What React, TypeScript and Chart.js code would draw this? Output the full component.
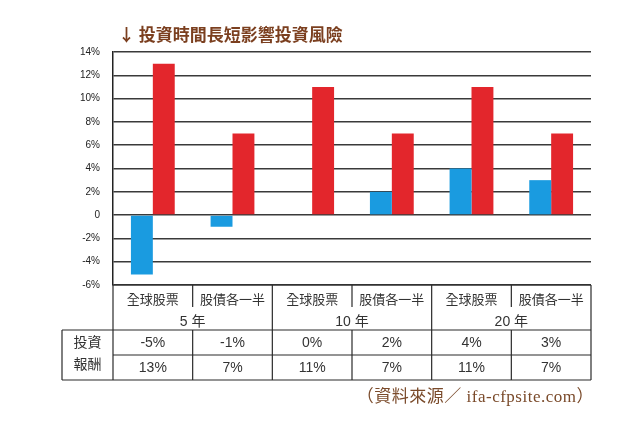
import React, { useEffect, useRef } from "react";
import { Chart, registerables } from "chart.js";

Chart.register(...registerables);

const categories = ["全球股票", "股債各一半", "全球股票", "股債各一半", "全球股票", "股債各一半"];
const years = ["5 年", "10 年", "20 年"];
const worstValues = [-5.1, -1, 0, 2, 4, 3];
const bestValues = [13, 7, 11, 7, 11, 7];
const worstLabels = ["-5%", "-1%", "0%", "2%", "4%", "3%"];
const bestLabels = ["13%", "7%", "11%", "7%", "11%", "7%"];
const rowHeader = ["投資", "報酬"];
const titleText = "↓ 投資時間長短影響投資風險";
const sourceText = "（資料來源／ ifa-cfpsite.com）";

const CJK = "'Noto Sans CJK TC', 'Liberation Sans', sans-serif";
const NUM = "'Liberation Sans', 'Noto Sans CJK TC', sans-serif";

const tablePlugin = {
  id: "tablePlugin",
  afterDraw(chart: any) {
    const ctx = chart.ctx as CanvasRenderingContext2D;
    const xs = chart.scales.x;
    const area = chart.chartArea;
    const left = area.left;
    const right = area.right;
    const n = categories.length;
    const w = (right - left) / n;
    const top = area.bottom;
    const subDivBottom = top + 22;
    const catBottom = top + 45;
    const row1 = catBottom + 25;
    const row2 = row1 + 25;
    const headLeft = 62;

    ctx.save();
    ctx.strokeStyle = "#2a2a2a";
    ctx.lineWidth = 1.2;
    const line = (x1: number, y1: number, x2: number, y2: number) => {
      ctx.beginPath();
      ctx.moveTo(x1, y1);
      ctx.lineTo(x2, y2);
      ctx.stroke();
    };
    line(left, top, right, top);
    line(headLeft, catBottom, right, catBottom);
    line(left, row1, right, row1);
    line(headLeft, row2, right, row2);
    line(left, top, left, row2);
    line(right, top, right, row2);
    line(headLeft, catBottom, headLeft, row2);
    for (let i = 1; i < n; i++) {
      const x = left + w * i;
      if (i % 2 === 0) {
        line(x, top, x, row2);
      } else {
        line(x, top, x, subDivBottom);
        line(x, catBottom, x, row2);
      }
    }

    ctx.textAlign = "center";
    ctx.textBaseline = "middle";
    ctx.fillStyle = "#333";
    for (let i = 0; i < n; i++) {
      const cx = xs.getPixelForValue(i);
      ctx.font = `13px ${CJK}`;
      ctx.fillText(categories[i], cx, top + 14);
      ctx.font = `14px ${NUM}`;
      ctx.fillText(worstLabels[i], cx, catBottom + 13);
      ctx.fillText(bestLabels[i], cx, row1 + 13);
    }
    ctx.font = `14px ${NUM}`;
    for (let g = 0; g < years.length; g++) {
      const cx = left + w * (2 * g + 1);
      ctx.fillText(years[g], cx, top + 37);
    }
    ctx.font = `14px ${CJK}`;
    const hx = (headLeft + left) / 2;
    ctx.fillText(rowHeader[0], hx, catBottom + 12);
    ctx.fillText(rowHeader[1], hx, row1 + 9);

    ctx.textAlign = "left";
    ctx.fillStyle = "#7b3f1f";
    ctx.font = `bold 17px ${CJK}`;
    ctx.fillText(titleText, 118, 35);

    ctx.textAlign = "right";
    ctx.fillStyle = "#7a4a2a";
    ctx.font = "17px 'Liberation Serif', 'Noto Sans CJK TC', serif";
    (ctx as any).letterSpacing = "0.5px";
    ctx.fillText(sourceText, 594, 398);
    ctx.restore();
  },
};

export default function App() {
  const ref = useRef<HTMLCanvasElement>(null);
  useEffect(() => {
    if (!ref.current) return;
    const chart = new Chart(ref.current, {
      type: "bar",
      data: {
        labels: categories,
        datasets: [
          {
            data: worstValues,
            backgroundColor: "#1a9be0",
            categoryPercentage: 0.55,
            barPercentage: 1,
          },
          {
            data: bestValues,
            backgroundColor: "#e3262c",
            categoryPercentage: 0.55,
            barPercentage: 1,
          },
        ],
      },
      options: {
        responsive: false,
        animation: false,
        devicePixelRatio: 1,
        layout: { padding: { left: 0, top: 52, right: 49, bottom: 144 } },
        plugins: { legend: { display: false }, tooltip: { enabled: false } },
        scales: {
          x: { display: false },
          y: {
            min: -6,
            max: 14,
            afterFit: (s: any) => {
              s.width = 113;
            },
            ticks: {
              stepSize: 2,
              padding: 13,
              color: "#222",
              font: { family: "'Liberation Sans', sans-serif", size: 10 },
              callback: (v: any) => (Number(v) === 0 ? "0" : `${v}%`),
            },
            grid: { color: "#3a3a3a", lineWidth: 1.5, drawTicks: false },
            border: { display: true, color: "#222", width: 1.5 },
          },
        },
      },
      plugins: [tablePlugin],
    });
    return () => chart.destroy();
  }, []);
  return (
    <div style={{ position: "fixed", left: 0, top: 0, width: 640, height: 429, background: "#fff" }}>
      <canvas ref={ref} width={640} height={429} />
    </div>
  );
}
